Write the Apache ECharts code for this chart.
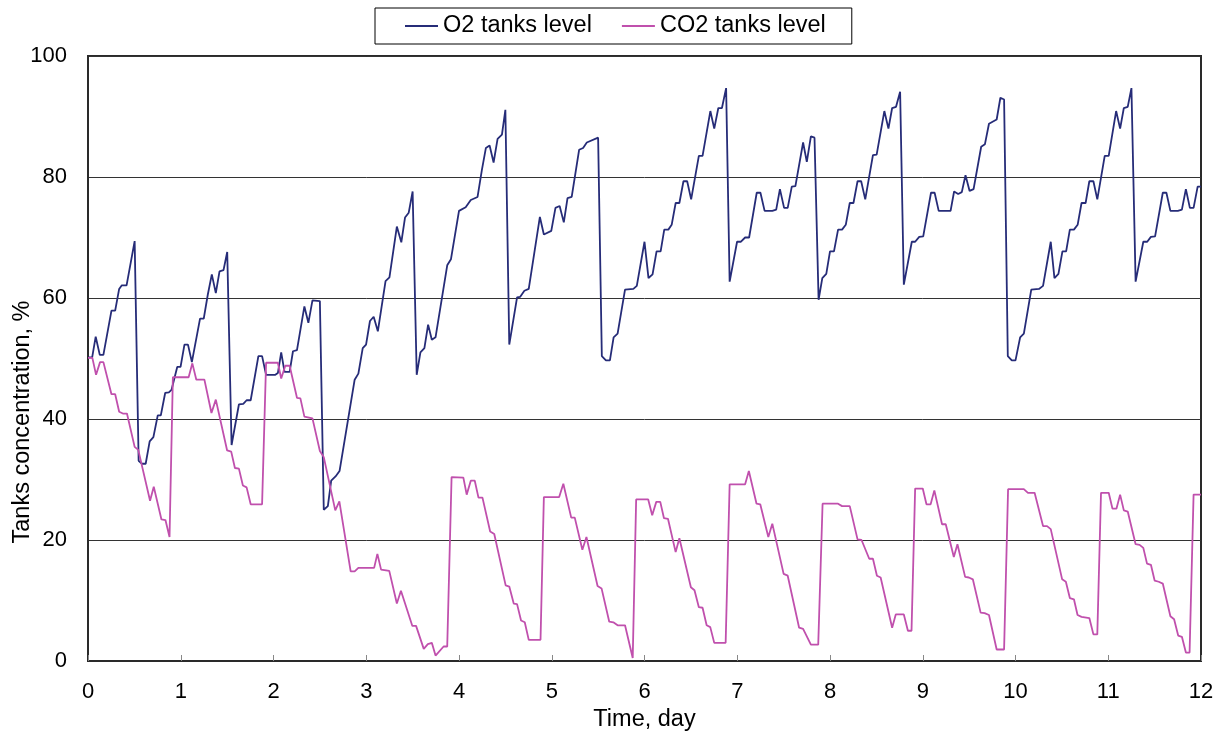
<!DOCTYPE html>
<html>
<head>
<meta charset="utf-8">
<script src="https://cdn.jsdelivr.net/npm/echarts@6/dist/echarts.min.js"></script>
<style>
  html, body { margin: 0; padding: 0; background: #fff; }
  #main { width: 1213px; height: 731px; }
</style>
</head>
<body>
<div id="main"></div>
<script>
// 数据：时间(天) 与 液位(%)
var o2Day = [0, 0.045, 0.083, 0.127, 0.166, 0.253, 0.293, 0.336, 0.365, 0.416, 0.503, 0.546, 0.582, 0.622, 0.665, 0.705, 0.752, 0.785, 0.832, 0.872, 0.9, 0.962, 0.998,
  1.04, 1.078, 1.12, 1.208, 1.248, 1.291, 1.335, 1.378, 1.418, 1.461, 1.501, 1.548, 1.627, 1.674, 1.71, 1.754, 1.837, 1.877, 1.92,
  2.02, 2.047, 2.083, 2.119, 2.174, 2.21, 2.253, 2.333, 2.376, 2.42, 2.5, 2.542, 2.586, 2.622, 2.669, 2.712, 2.875, 2.915, 2.962, 2.998,
  3.04, 3.08, 3.125, 3.208, 3.25, 3.33, 3.378, 3.418, 3.458, 3.5, 3.544, 3.584, 3.627, 3.667, 3.707, 3.747, 3.873, 3.913,
  4.0, 4.072, 4.127, 4.2, 4.246, 4.29, 4.33, 4.373, 4.416, 4.463, 4.5, 4.542, 4.626, 4.66, 4.705, 4.752, 4.872, 4.915, 4.995,
  5.04, 5.085, 5.13, 5.17, 5.215, 5.295, 5.338, 5.378, 5.5, 5.54, 5.584, 5.627, 5.667, 5.71, 5.79, 5.88, 5.917,
  6.0, 6.043, 6.087, 6.13, 6.174, 6.213, 6.257, 6.293, 6.336, 6.376, 6.42, 6.46, 6.503, 6.586, 6.626, 6.71, 6.752, 6.796, 6.835, 6.88, 6.918, 6.998,
  7.04, 7.085, 7.128, 7.21, 7.25, 7.295, 7.378, 7.42, 7.46, 7.505, 7.544, 7.588, 7.627, 7.71, 7.75, 7.794, 7.833, 7.877, 7.917, 7.96,
  8.0, 8.043, 8.087, 8.13, 8.17, 8.213, 8.253, 8.297, 8.336, 8.38, 8.463, 8.503, 8.586, 8.63, 8.67, 8.712, 8.756, 8.796, 8.882, 8.918, 8.962,
  9.005, 9.089, 9.128, 9.172, 9.3, 9.338, 9.382, 9.421, 9.461, 9.505, 9.548, 9.63, 9.67, 9.714, 9.797, 9.837, 9.877, 9.917, 9.96,
  10.0, 10.05, 10.09, 10.17, 10.253, 10.297, 10.38, 10.42, 10.463, 10.506, 10.546, 10.586, 10.63, 10.67, 10.712, 10.756, 10.796, 10.84, 10.882, 10.962,
  11.005, 11.085, 11.128, 11.168, 11.21, 11.25, 11.295, 11.378, 11.42, 11.46, 11.505, 11.588, 11.627, 11.67, 11.75, 11.794, 11.837, 11.88, 11.92, 11.964, 12.0];
var o2Level = [50.2, 50.2, 53.6, 50.6, 50.6, 57.9, 57.9, 61.5, 62.1, 62.1, 69.4, 33.1, 32.6, 32.6, 36.3, 37.0, 40.6, 40.6, 44.3, 44.4, 44.8, 48.6, 48.6,
  52.3, 52.3, 49.4, 56.6, 56.6, 60.5, 63.9, 60.8, 64.4, 64.6, 67.6, 35.7, 42.4, 42.5, 43.1, 43.1, 50.4, 50.4, 47.3,
  47.3, 47.6, 51.0, 47.8, 47.8, 51.2, 51.4, 58.6, 55.9, 59.6, 59.5, 25.0, 25.6, 29.8, 30.5, 31.4, 46.5, 47.5, 51.7, 52.3,
  56.2, 56.9, 54.5, 62.8, 63.4, 71.8, 69.2, 73.3, 74.1, 77.6, 47.3, 51.0, 51.7, 55.6, 53.1, 53.5, 65.4, 66.4,
  74.4, 75.0, 76.2, 76.7, 81.1, 84.8, 85.2, 82.4, 86.3, 87.0, 91.1, 52.3, 60.1, 60.2, 61.2, 61.5, 73.4, 70.5, 71.1,
  74.9, 75.2, 72.5, 76.5, 76.7, 84.5, 84.8, 85.7, 86.5, 50.4, 49.7, 49.7, 53.5, 54.1, 61.4, 61.5, 62.0,
  69.3, 63.3, 63.9, 67.7, 67.7, 71.3, 71.3, 72.1, 75.7, 75.7, 79.3, 79.3, 76.3, 83.5, 83.5, 90.9, 88.0, 91.4, 91.4, 94.7, 62.7, 69.3,
  69.3, 70.0, 70.0, 77.4, 77.4, 74.4, 74.4, 74.6, 78.0, 74.9, 74.9, 78.4, 78.5, 85.7, 82.5, 86.7, 86.5, 59.7, 63.3, 64.0,
  67.7, 67.7, 71.3, 71.3, 72.1, 75.7, 75.7, 79.3, 79.3, 76.3, 83.6, 83.7, 90.9, 88.0, 91.4, 91.6, 94.1, 62.2, 69.3, 69.3, 70.1,
  70.2, 77.4, 77.4, 74.4, 74.4, 77.6, 77.2, 77.5, 80.3, 77.7, 78.0, 85.0, 85.4, 88.8, 89.5, 93.1, 92.8, 50.4, 49.7,
  49.7, 53.5, 54.1, 61.4, 61.5, 62.0, 69.3, 63.3, 64.0, 67.7, 67.7, 71.3, 71.3, 72.1, 75.7, 75.7, 79.3, 79.3, 76.3, 83.5,
  83.5, 90.9, 88.0, 91.4, 91.6, 94.7, 62.7, 69.3, 69.3, 70.1, 70.2, 77.4, 77.4, 74.4, 74.4, 74.6, 78.0, 74.9, 74.9, 78.4, 78.4];

var co2Day = [0, 0.047, 0.087, 0.13, 0.166, 0.253, 0.293, 0.336, 0.376, 0.42, 0.503, 0.542, 0.669, 0.709, 0.792, 0.835, 0.879, 0.915,
  1.085, 1.125, 1.168, 1.255, 1.331, 1.378, 1.5, 1.544, 1.584, 1.627, 1.67, 1.71, 1.754, 1.877, 1.92,
  2.047, 2.083, 2.127, 2.174, 2.253, 2.29, 2.333, 2.42, 2.5, 2.542, 2.666, 2.71, 2.832, 2.875, 2.915,
  3.085, 3.12, 3.16, 3.248, 3.33, 3.374, 3.497, 3.537, 3.62, 3.664, 3.707, 3.747, 3.834, 3.873, 3.92,
  4.047, 4.083, 4.127, 4.17, 4.21, 4.253, 4.336, 4.38, 4.503, 4.542, 4.59, 4.626, 4.669, 4.709, 4.752, 4.879, 4.915,
  5.08, 5.125, 5.21, 5.248, 5.33, 5.374, 5.494, 5.537, 5.62, 5.664, 5.71, 5.79, 5.873, 5.91,
  6.04, 6.083, 6.127, 6.17, 6.21, 6.253, 6.336, 6.376, 6.5, 6.539, 6.586, 6.626, 6.67, 6.709, 6.752, 6.875, 6.918,
  7.085, 7.125, 7.208, 7.248, 7.335, 7.378, 7.5, 7.544, 7.667, 7.71, 7.794, 7.873, 7.92,
  8.087, 8.13, 8.213, 8.297, 8.34, 8.423, 8.463, 8.506, 8.546, 8.67, 8.709, 8.796, 8.84, 8.879, 8.918,
  9.0, 9.04, 9.085, 9.125, 9.208, 9.248, 9.335, 9.374, 9.457, 9.497, 9.54, 9.624, 9.667, 9.714, 9.797, 9.877, 9.92,
  10.09, 10.134, 10.206, 10.297, 10.34, 10.38, 10.503, 10.543, 10.586, 10.63, 10.669, 10.712, 10.796, 10.84, 10.882, 10.922,
  11.005, 11.045, 11.089, 11.128, 11.168, 11.21, 11.295, 11.338, 11.378, 11.418, 11.46, 11.5, 11.544, 11.588, 11.67, 11.71, 11.754, 11.794, 11.837, 11.877, 11.92, 12.0];
var co2Level = [50.1, 50.1, 47.3, 49.4, 49.4, 44.1, 44.1, 41.2, 40.9, 40.9, 35.4, 34.9, 26.5, 28.8, 23.4, 23.3, 20.5, 46.9,
  46.9, 49.2, 46.5, 46.5, 41.0, 43.2, 34.8, 34.6, 31.9, 31.8, 29.0, 28.7, 25.9, 25.9, 49.3,
  49.3, 46.7, 48.8, 48.8, 43.5, 43.4, 40.4, 40.1, 34.7, 33.7, 24.9, 26.4, 14.8, 14.8, 15.4,
  15.4, 17.7, 15.1, 14.9, 9.5, 11.6, 5.8, 5.8, 2.0, 2.8, 3.0, 0.9, 2.4, 2.4, 30.4,
  30.3, 27.5, 29.8, 29.8, 27.0, 27.0, 21.4, 21.0, 12.5, 12.3, 9.5, 9.4, 6.7, 6.4, 3.5, 3.5, 27.1,
  27.1, 29.3, 23.7, 23.7, 18.4, 20.5, 12.4, 12.0, 6.5, 6.4, 5.9, 5.9, 0.5, 26.7,
  26.7, 24.1, 26.3, 26.3, 23.6, 23.5, 18.0, 20.3, 12.2, 11.7, 8.9, 8.8, 5.9, 5.6, 3.0, 3.0, 29.2,
  29.2, 31.4, 26.0, 25.9, 20.5, 22.7, 14.4, 14.1, 5.5, 5.3, 2.7, 2.7, 26.0,
  26.0, 25.6, 25.6, 20.1, 20.0, 16.9, 16.9, 14.1, 13.8, 5.5, 7.7, 7.7, 5.0, 5.0, 28.5,
  28.5, 25.9, 25.9, 28.2, 22.6, 22.6, 17.2, 19.3, 13.9, 13.8, 13.5, 8.0, 7.9, 7.6, 1.9, 1.9, 28.4,
  28.4, 27.8, 27.8, 22.3, 22.3, 21.8, 13.5, 13.1, 10.4, 10.2, 7.6, 7.3, 7.1, 4.4, 4.4, 27.8,
  27.8, 25.2, 25.2, 27.5, 24.9, 24.7, 19.3, 19.2, 18.7, 16.1, 15.9, 13.3, 13.1, 12.8, 7.4, 6.9, 4.2, 4.0, 1.4, 1.4, 27.5, 27.5];

var dayTicks = [0, 12, 1];
var levelTicks = [0, 100, 20];

function pairs(xs, ys) {
    return xs.map(function (x, i) { return [x, ys[i]]; });
}

var chart = echarts.init(document.getElementById('main'));
var font = "'Liberation Sans', Arial, sans-serif";

var option = {
    backgroundColor: '#fff',
    animation: false,
    textStyle: { fontFamily: font },
    legend: {
        top: 8,
        left: 375,
        padding: [6, 26, 6, 30],
        itemGap: 30,
        itemWidth: 33,
        itemHeight: 2,
        itemTextGap: 3,
        icon: 'rect',
        borderColor: '#000',
        borderWidth: 1,
        textStyle: { fontSize: 23.5, color: '#000', fontFamily: font },
        data: ['O2 tanks level', 'CO2 tanks level']
    },
    grid: {
        left: 88, top: 56, right: 12, bottom: 70,
        outerBoundsMode: 'none',
        containLabel: false,
        show: true,
        borderColor: '#2a2a2a',
        borderWidth: 2
    },
    graphic: [{
        // y 轴标题（原图中偏下）
        type: 'text',
        x: 23,
        y: 422,
        rotation: Math.PI / 2,
        style: {
            text: 'Tanks concentration, %',
            font: "23.5px 'Liberation Sans', Arial, sans-serif",
            fill: '#000',
            align: 'center',
            verticalAlign: 'middle'
        }
    }],
    xAxis: {
        type: 'value',
        min: dayTicks[0], max: dayTicks[1], interval: dayTicks[2],
        name: 'Time, day',
        nameLocation: 'middle',
        nameGap: 45,
        nameTextStyle: { fontSize: 23.5, color: '#000', fontFamily: font },
        axisLine: { show: true, lineStyle: { color: '#2a2a2a', width: 2 } },
        axisTick: { show: true, inside: true, length: 6, lineStyle: { color: '#888', width: 1 } },
        axisLabel: { fontSize: 22, color: '#000', margin: 20, fontFamily: font },
        splitLine: { show: false }
    },
    yAxis: {
        type: 'value',
        min: levelTicks[0], max: levelTicks[1], interval: levelTicks[2],
        axisLine: { show: true, lineStyle: { color: '#2a2a2a', width: 2 } },
        axisTick: { show: false },
        axisLabel: { fontSize: 22, color: '#000', margin: 21, fontFamily: font },
        splitLine: { show: true, lineStyle: { color: '#333', width: 1 } }
    },
    series: [
        {
            name: 'O2 tanks level',
            type: 'line',
            symbol: 'none',
            data: pairs(o2Day, o2Level),
            lineStyle: { color: '#262c78', width: 1.8 },
            itemStyle: { color: '#262c78' }
        },
        {
            name: 'CO2 tanks level',
            type: 'line',
            symbol: 'none',
            data: pairs(co2Day, co2Level),
            lineStyle: { color: '#c050ad', width: 1.8 },
            itemStyle: { color: '#c050ad' }
        }
    ]
};

chart.setOption(option);
</script>
</body>
</html>
